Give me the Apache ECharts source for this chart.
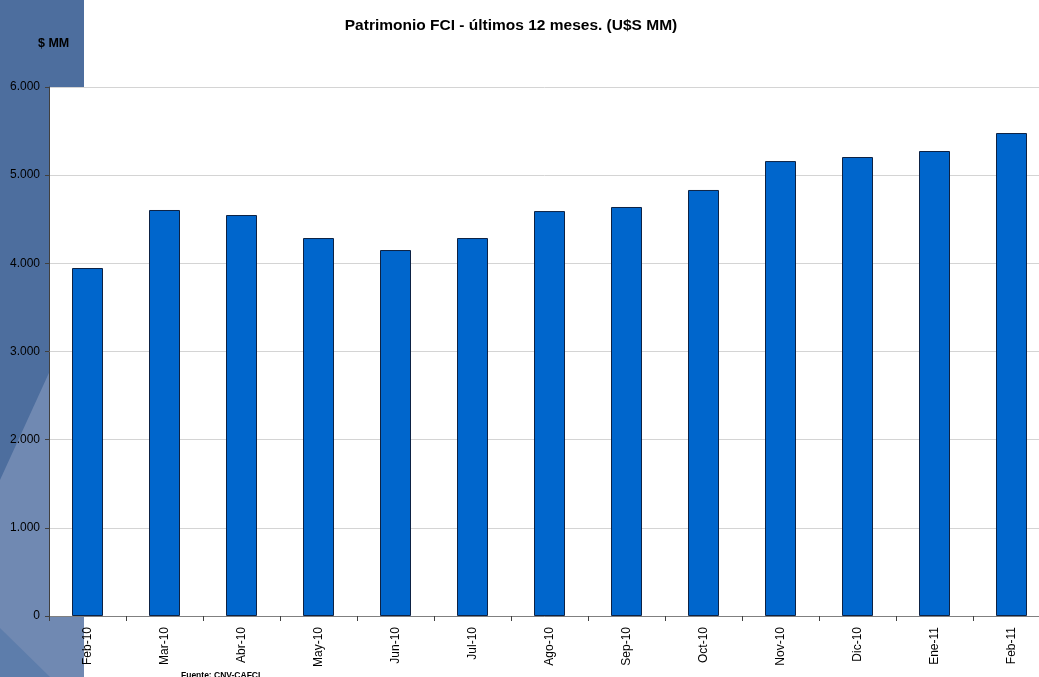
<!DOCTYPE html>
<html>
<head>
<meta charset="utf-8">
<script src="https://cdn.jsdelivr.net/npm/echarts@6/dist/echarts.min.js"></script>
<style>
  html, body { margin: 0; padding: 0; background: #fff; }
  #main { width: 1039px; height: 677px; }
</style>
</head>
<body>
<div id="main"></div>
<script>
	// datos (U$S MM)
	var meses = ['Feb-10', 'Mar-10', 'Abr-10', 'May-10', 'Jun-10', 'Jul-10', 'Ago-10',
		'Sep-10', 'Oct-10', 'Nov-10', 'Dic-10', 'Ene-11', 'Feb-11'];
	var patrimonio = [3947, 4605, 4548, 4287, 4151, 4287, 4593, 4639, 4832, 5160, 5206, 5274, 5478];
	var ejeY = { min: 0, max: 6000, interval: 1000 };

	function fmtMiles(v) {
		return String(v).replace(/\B(?=(\d{3})+(?!\d))/g, '.');
	}

	var myChart = echarts.init(document.getElementById('main'));
	var option = {
		backgroundColor: '#ffffff',
		animation: false,
		textStyle: { fontFamily: 'Liberation Sans, Arial, sans-serif' },
		title: {
			text: 'Patrimonio FCI - últimos 12 meses. (U$S MM)',
			left: 506,
			top: 13,
			textAlign: 'center',
			textStyle: { fontSize: 15.5, fontWeight: 'bold', color: '#000' }
		},
		graphic: [
			// franja azul de la izquierda
			{ type: 'rect', z: -10, shape: { x: 0, y: 0, width: 84, height: 677 },
				style: { fill: '#4d6e9e' } },
			{ type: 'polygon', z: -9, shape: { points: [[84, 296], [48, 375], [0, 480], [0, 677], [84, 677]] },
				style: { fill: '#7089b2' } },
			{ type: 'polygon', z: -8, shape: { points: [[0, 628], [50, 677], [0, 677]] },
				style: { fill: '#5d7dab' } },
			{ type: 'text', z: 10, left: 38, top: 37,
				style: { text: '$ MM', font: 'bold 12.5px Liberation Sans, Arial', fill: '#000' } },
			{ type: 'text', z: 10, left: 181, top: 671,
				style: { text: 'Fuente: CNV-CAFCI', font: 'bold 8.5px Liberation Sans, Arial', fill: '#000' } }
		],
		grid: {
			show: true,
			left: 49,
			top: 87,
			right: -11,
			bottom: 61,
			backgroundColor: '#ffffff',
			borderWidth: 0,
			containLabel: false,
			outerBoundsMode: 'none'
		},
		xAxis: {
			type: 'category',
			data: meses,
			axisLine: { lineStyle: { color: '#808080', width: 1 } },
			axisTick: { show: true, length: 5, alignWithLabel: false, lineStyle: { color: '#404040' } },
			axisLabel: { rotate: 90, margin: 11, fontSize: 12, color: '#000', interval: 0 },
			splitLine: { show: false }
		},
		yAxis: {
			type: 'value',
			min: ejeY.min,
			max: ejeY.max,
			interval: ejeY.interval,
			axisLine: { show: true, lineStyle: { color: '#404040', width: 1 } },
			axisTick: { show: true, length: 4, lineStyle: { color: '#404040' } },
			axisLabel: { fontSize: 12, color: '#000', margin: 9, formatter: fmtMiles },
			splitLine: { show: true, lineStyle: { color: '#d4d4d4', width: 1 } }
		},
		series: [{
			name: 'Patrimonio',
			type: 'bar',
			data: patrimonio,
			barWidth: 31,
			itemStyle: { color: '#0066cc', borderColor: '#0d2244', borderWidth: 1 }
		}]
	};
	myChart.setOption(option, true);
</script>
</body>
</html>
